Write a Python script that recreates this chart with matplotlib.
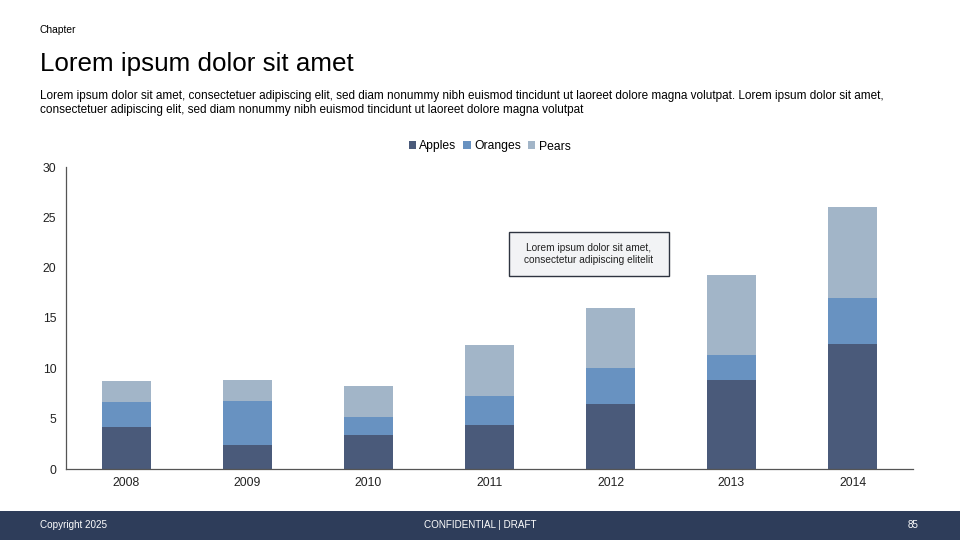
import numpy as np
import matplotlib.pyplot as plt
from matplotlib.patches import Rectangle

plt.rcParams['font.family'] = ['Liberation Sans', 'DejaVu Sans']

years = ['2008', '2009', '2010', '2011', '2012', '2013', '2014']
apples = [4.2, 2.4, 3.4, 4.4, 6.5, 8.8, 12.4]
oranges = [2.5, 4.4, 1.8, 2.9, 3.5, 2.5, 4.6]
pears = [2.0, 2.0, 3.0, 5.0, 6.0, 8.0, 9.0]

colors = ['#4a5a7a', '#6892c1', '#a2b5c8']

fig = plt.figure(figsize=(9.6, 5.4), dpi=100)
fig.patch.set_facecolor('white')

# header texts
fig.text(40/960, 1 - 30/540, 'Chapter', fontsize=7.4, va='center', ha='left')
fig.text(40/960, 1 - 64/540, 'Lorem ipsum dolor sit amet', fontsize=18.7, va='center', ha='left')
body = ('Lorem ipsum dolor sit amet, consectetuer adipiscing elit, sed diam nonummy nibh euismod tincidunt ut laoreet dolore magna volutpat. '
        'Lorem ipsum dolor sit amet,\nconsectetuer adipiscing elit, sed diam nonummy nibh euismod tincidunt ut laoreet dolore magna volutpat')
fig.text(40/960, 1 - 90.5/540, body, fontsize=8.5, va='top', ha='left', linespacing=1.2)

# chart
ax = fig.add_axes([66/960, 1 - 469/540, (913 - 66)/960, (469 - 167)/540])
x = np.arange(len(years))
w = 0.4
ax.bar(x, apples, w, color=colors[0], label='Apples')
ax.bar(x, oranges, w, bottom=apples, color=colors[1], label='Oranges')
bottom2 = np.array(apples) + np.array(oranges)
ax.bar(x, pears, w, bottom=bottom2, color=colors[2], label='Pears')

ax.set_xlim(-0.5, len(years) - 0.5)
ax.set_ylim(0, 30)
ax.set_yticks([0, 5, 10, 15, 20, 25, 30])
ax.set_xticks(x)
ax.set_xticklabels(years)
ax.tick_params(axis='both', length=0, labelsize=8.8, colors='#222222')
ax.tick_params(axis='y', pad=7)
ax.tick_params(axis='x', pad=6)
for s in ['top', 'right']:
    ax.spines[s].set_visible(False)
for s in ['left', 'bottom']:
    ax.spines[s].set_color('#555555')
    ax.spines[s].set_linewidth(0.9)

ax.legend(loc='center', bbox_to_anchor=(0.5, 1 + (167 - 146.5)/302), ncol=3, frameon=False,
          fontsize=8.7, handlelength=0.6, handleheight=0.6, handletextpad=0.3, columnspacing=0.55)

# annotation box
fig.patches.append(Rectangle((509/960, 1 - 276/540), 160/960, 44/540, transform=fig.transFigure,
                             facecolor='#f2f3f5', edgecolor='#2e3440', linewidth=1.0))
fig.text(589/960, 1 - 254/540, 'Lorem ipsum dolor sit amet,\nconsectetur adipiscing elitelit',
         fontsize=7.3, ha='center', va='center', linespacing=1.25, color='#222222')

# footer
fig.patches.append(Rectangle((0, 0), 1, 29/540, transform=fig.transFigure,
                             facecolor='#2e3d5a', edgecolor='none'))
fig.text(40/960, 15/540, 'Copyright 2025', fontsize=7.1, color='white', va='center', ha='left')
fig.text(480/960, 15/540, 'CONFIDENTIAL | DRAFT', fontsize=7.1, color='white', va='center', ha='center')
fig.text(919/960, 15/540, '85', fontsize=7.1, color='white', va='center', ha='right')

fig.savefig('out.png', dpi=100)
